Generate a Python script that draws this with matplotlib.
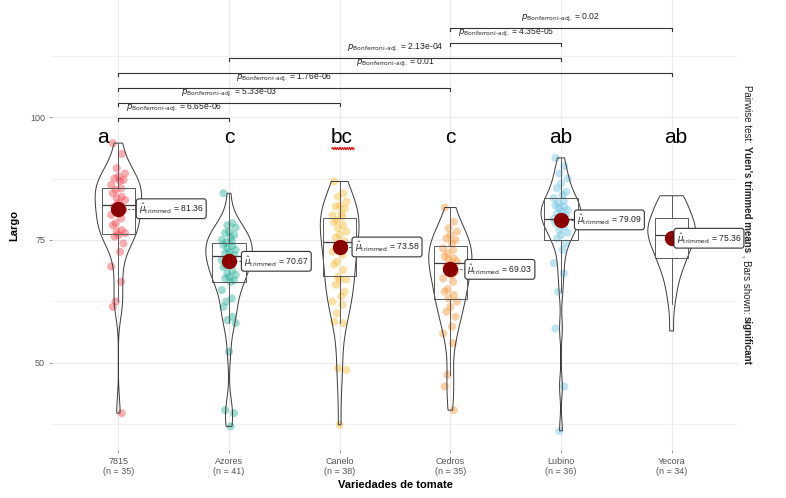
import numpy as np
import matplotlib.pyplot as plt

plt.rcParams['font.family'] = ['Liberation Sans Narrow', 'Liberation Sans', 'DejaVu Sans']
plt.rcParams['mathtext.fontset'] = 'custom'
plt.rcParams['mathtext.rm'] = 'Liberation Sans Narrow'
plt.rcParams['mathtext.it'] = 'Liberation Sans Narrow:italic'
plt.rcParams['mathtext.bf'] = 'Liberation Sans Narrow:bold'

# --- datos ---
variedades = ['7815', 'Azores', 'Canelo', 'Cedros', 'Lubino', 'Yecora']
n_obs = [35, 41, 38, 35, 36, 34]

largo_7815 = [94.7, 92.5, 89.6, 88.5, 87.9, 87.5, 87.2, 87.0, 86.2, 85.5, 85.2, 84.5,
              83.8, 83.5, 83.1, 82.5, 81.8, 81.1, 80.5, 80.1, 79.4, 78.4, 78.0, 77.0,
              76.7, 76.4, 76.0, 75.7, 74.3, 72.6, 69.6, 66.5, 62.5, 61.4, 39.8]
largo_azores = [84.5, 78.4, 78.0, 77.5, 76.7, 76.4, 76.0, 75.5, 75.0, 74.7, 74.5, 74.0,
                73.8, 73.3, 73.0, 72.6, 72.3, 72.0, 71.5, 70.9, 70.5, 69.9, 69.5, 68.8,
                68.2, 67.9, 67.5, 67.2, 66.8, 66.5, 64.8, 63.1, 62.5, 61.4, 59.4, 58.7,
                58.1, 52.3, 40.4, 39.8, 37.1]
largo_canelo = [86.9, 84.5, 83.8, 82.8, 82.0, 81.8, 81.4, 80.4, 80.0, 79.7, 79.0, 78.7,
                78.0, 77.4, 76.7, 76.0, 75.5, 74.7, 73.3, 72.6, 72.0, 70.6, 70.0, 68.9,
                67.5, 67.0, 66.9, 65.9, 64.5, 63.5, 62.5, 61.8, 60.1, 58.4, 58.1, 48.9,
                48.6, 37.4]
largo_cedros = [81.6, 78.7, 77.4, 76.7, 76.0, 75.3, 75.0, 74.3, 73.3, 73.0, 72.3, 71.6,
                71.3, 71.0, 70.6, 70.0, 69.6, 68.5, 67.9, 67.2, 66.5, 65.0, 64.5, 63.8,
                63.1, 62.5, 61.4, 60.4, 59.4, 57.4, 56.0, 54.0, 47.6, 45.2, 40.4]
largo_lubino = [91.7, 90.0, 88.5, 87.5, 86.5, 85.5, 84.8, 84.1, 83.5, 83.0, 82.5, 82.0,
                81.8, 81.5, 81.1, 80.8, 80.4, 80.0, 79.7, 79.3, 79.1, 78.8, 78.4, 77.7,
                77.0, 76.5, 76.0, 75.3, 74.3, 73.0, 70.3, 68.2, 64.5, 57.0, 45.2, 36.2]
largo_yecora = [84.0, 84.0, 83.5, 83.0, 82.5, 81.5, 80.5, 80.0, 79.5, 79.0, 78.5, 78.0,
                78.0, 77.5, 77.0, 76.5, 76.0, 76.0, 75.5, 75.0, 74.5, 74.0, 73.5, 72.5,
                72.0, 71.5, 71.0, 70.0, 69.0, 68.0, 66.5, 64.5, 62.0, 56.5]
grupos = [largo_7815, largo_azores, largo_canelo, largo_cedros, largo_lubino, largo_yecora]

medias_recortadas = [81.36, 70.67, 73.58, 69.03, 79.09, 75.36]
cuartil_inf = [76.2, 66.4, 67.7, 63.1, 75.0, 71.3]
medianas = [82.1, 71.7, 74.5, 70.3, 79.3, 76.0]
cuartil_sup = [85.6, 74.3, 79.4, 73.8, 83.5, 79.4]
letras = ['a', 'c', 'bc', 'c', 'ab', 'ab']

comparaciones = [(0, 1), (0, 2), (0, 3), (0, 5), (1, 4), (3, 4), (3, 5)]
p_valores = ['6.65e-06', '5.33e-03', '1.76e-06', '0.01', '2.13e-04', '4.35e-05', '0.02']

# --- estilo ---
colores = ['#F5474F', '#2CB39C', '#F5BD38', '#F8983A', '#6FC5E3', None]
semiancho_violin = [0.21, 0.21, 0.175, 0.195, 0.18, 0.215]
desv_etiqueta = [0.17, 0.12, 0.12, 0.14, 0.13, 0.03]
desv_letra = [-0.14, 0.0, 0.02, 0.0, 0.0, 0.04]
patron_jitter = np.array([-0.05, 0.03, -0.015, 0.06, 0.0, -0.035, 0.045, 0.015, -0.065, 0.025, -0.025])


def densidad(vals):
    v = np.asarray(vals)
    iqr = np.subtract(*np.percentile(v, [75, 25]))
    bw = 0.9 * min(v.std(ddof=1), iqr / 1.34) * len(v) ** -0.2
    ys = np.linspace(v.min(), v.max(), 300)
    d = np.exp(-0.5 * ((ys[:, None] - v[None, :]) / bw) ** 2).sum(1) / (len(v) * bw * np.sqrt(2 * np.pi))
    return ys, d


fig = plt.figure(figsize=(7.86, 4.98), dpi=100)
ax = fig.add_axes([52 / 786, 1 - 450 / 498, (738 - 52) / 786, 450 / 498])
ax.set_xlim(-0.6, 5.6)
ax.set_ylim(32.3, 123.8)

# grilla
for yv in [37.5, 62.5, 87.5, 112.5]:
    ax.axhline(yv, color='#F0F0F0', lw=0.6, zorder=0)
for yv in [50, 75, 100]:
    ax.axhline(yv, color='#EBEBEB', lw=0.9, zorder=0)
for xv in range(len(variedades)):
    ax.axvline(xv, color='#EBEBEB', lw=0.9, zorder=0)

# violines
for i, g in enumerate(grupos):
    ys, d = densidad(g)
    d = d / d.max() * semiancho_violin[i]
    xs = np.concatenate([i - d, (i + d)[::-1]])
    yy = np.concatenate([ys, ys[::-1]])
    ax.fill(xs, yy, facecolor='none', edgecolor='#3a3a3a', lw=0.7, zorder=3)

# puntos
for i, g in enumerate(grupos):
    if colores[i] is None:
        continue
    jit = np.resize(patron_jitter, len(g))
    ax.scatter(i + jit, g, s=34, color=colores[i], alpha=0.45, edgecolors='none', zorder=2)

# cajas
stats = []
for i, g in enumerate(grupos):
    v = np.asarray(g)
    iqr = cuartil_sup[i] - cuartil_inf[i]
    stats.append(dict(med=medianas[i], q1=cuartil_inf[i], q3=cuartil_sup[i],
                      whislo=v[v >= cuartil_inf[i] - 1.5 * iqr].min(),
                      whishi=v[v <= cuartil_sup[i] + 1.5 * iqr].max(), fliers=[]))
ax.bxp(stats, positions=range(len(variedades)), widths=0.3, showfliers=False, showcaps=False,
       boxprops=dict(color='#5a5a5a', lw=0.7), medianprops=dict(color='#3a3a3a', lw=0.9),
       whiskerprops=dict(color='#5a5a5a', lw=0.7), manage_ticks=False, zorder=3)

# medias recortadas
for i, m in enumerate(medias_recortadas):
    ax.plot(i, m, 'o', color='#8B0000', ms=10, zorder=5)
    ax.plot([i + 0.05, i + desv_etiqueta[i]], [m, m], ls=(0, (2, 2)), color='#444', lw=0.7, zorder=4)
    ax.text(i + desv_etiqueta[i] + 0.015, m, r'$\hat{\mu}_{\mathrm{trimmed}}$' + f' = {m:.2f}',
            fontsize=6.2, va='center', ha='left', color='#222', zorder=6,
            bbox=dict(boxstyle='round,pad=0.3,rounding_size=0.3', fc='white', ec='#333', lw=0.8))

# letras
for i, l in enumerate(letras):
    ax.text(i + desv_letra[i], 95.9, l, fontsize=15, ha='center', va='center',
            family=['Liberation Sans', 'DejaVu Sans'], color='black', zorder=6)
xs_w = np.linspace(1.93, 2.13, 60)
ax.plot(xs_w, 93.6 + 0.25 * np.sin((xs_w - 1.93) * 2 * np.pi / 0.022), color='#E02020', lw=0.8, zorder=6)

# barras de comparacion
for k, ((a, b), p) in enumerate(zip(comparaciones, p_valores)):
    y = 99.8 + 3.05 * k
    ax.plot([a, a, b, b], [y - 0.6, y, y, y - 0.6], color='#333', lw=0.8, zorder=4)
    ax.text((a + b) / 2, y + 0.9, r'$p_{\text{Bonferroni-adj.}}$' + f' = {p}',
            fontsize=6.2, ha='center', va='bottom', color='#222')

# ejes
ax.set_xticks(range(len(variedades)))
ax.set_xticklabels([f'{v}\n(n = {n})' for v, n in zip(variedades, n_obs)], linespacing=1.15)
ax.set_yticks([50, 75, 100])
ax.tick_params(length=2, width=0.6, color='#888', labelsize=6.5, labelcolor='#555', pad=3)
for s in ax.spines.values():
    s.set_visible(False)
ax.set_xlabel('Variedades de tomate', fontsize=8, fontweight='bold', labelpad=3)
ax.set_ylabel('Largo', fontsize=8, fontweight='bold', labelpad=8)

# texto lateral derecho (rotado, con partes en negrita)
piezas = [("Pairwise test: ", 'normal'), ("Yuen's trimmed means", 'bold'),
          (" , Bars shown: ", 'normal'), ("significant", 'bold')]
fig.canvas.draw()
rend = fig.canvas.get_renderer()
textos = []
for t, w in piezas:
    textos.append(fig.text(0, 0, t, rotation=270, fontsize=7, fontweight=w, ha='center', va='top', color='#222'))
alturas = [t.get_window_extent(rend).height / fig.bbox.height for t in textos]
y0 = (1 - 225 / 498) + sum(alturas) / 2
for t, h in zip(textos, alturas):
    t.set_position((747 / 786, y0))
    y0 -= h

fig.savefig('out.png', dpi=100)
